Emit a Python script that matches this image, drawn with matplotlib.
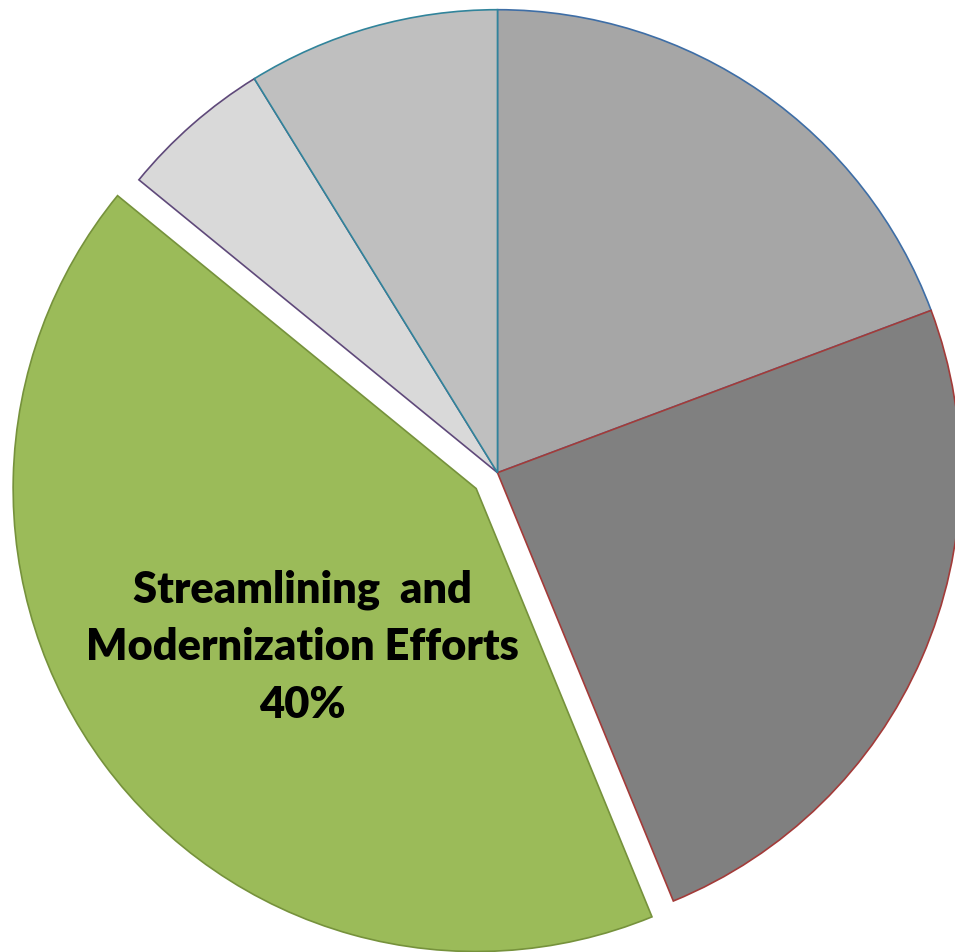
import matplotlib
matplotlib.use("Agg")
import matplotlib.pyplot as plt
from matplotlib import font_manager

# ---- data ----
categories = ["Category A", "Category B", "Streamlining and Modernization Efforts",
              "Category D", "Category E"]
values = [19.3, 24.5, 42.1, 5.3, 8.8]
fill_colors = ["#A6A6A6", "#808080", "#9BBB59", "#D9D9D9", "#BFBFBF"]
edge_colors = ["#3E6EA6", "#A33B39", "#76923C", "#5F497A", "#31849B"]
explode_frac = [0, 0, 0.0574, 0, 0]
label_lines = ["Streamlining  and", "Modernization Efforts", "40%"]

W, H = 955, 952
fig = plt.figure(figsize=(W / 100, H / 100), dpi=100)
ax = fig.add_axes([0, 0, 1, 1])

cx, cy, R = 497.5, H - 472.7, 463

wedges, _ = ax.pie(values, colors=fill_colors, explode=[e * R for e in explode_frac],
                   startangle=90, counterclock=False, radius=R, center=(cx, cy),
                   wedgeprops=dict(linewidth=1.2))
for w, ec in zip(wedges, edge_colors):
    w.set_edgecolor(ec)

ax.set_xlim(0, W)
ax.set_ylim(0, H)
ax.set_aspect("auto")
ax.axis("off")

fam = ["DejaVu Sans"]
avail = {f.name for f in font_manager.fontManager.ttflist}
for cand in ["Liberation Sans Narrow", "Lato", "Open Sans"]:
    if cand in avail:
        fam = [cand, "DejaVu Sans"]
        break

renderer = fig.canvas.get_renderer()
t = ax.text(0, 0, label_lines[1], fontsize=10, fontweight="heavy", family=fam)
wpx = t.get_window_extent(renderer=renderer).width
t.remove()
fs = 10 * 435 / wpx

baselines = [603, 659.5, 717.5]
for line, b in zip(label_lines, baselines):
    ax.text(302, H - b, line, ha="center", va="baseline", fontsize=fs,
            fontweight="heavy", family=fam, color="black")

fig.savefig("out.png", dpi=100)
